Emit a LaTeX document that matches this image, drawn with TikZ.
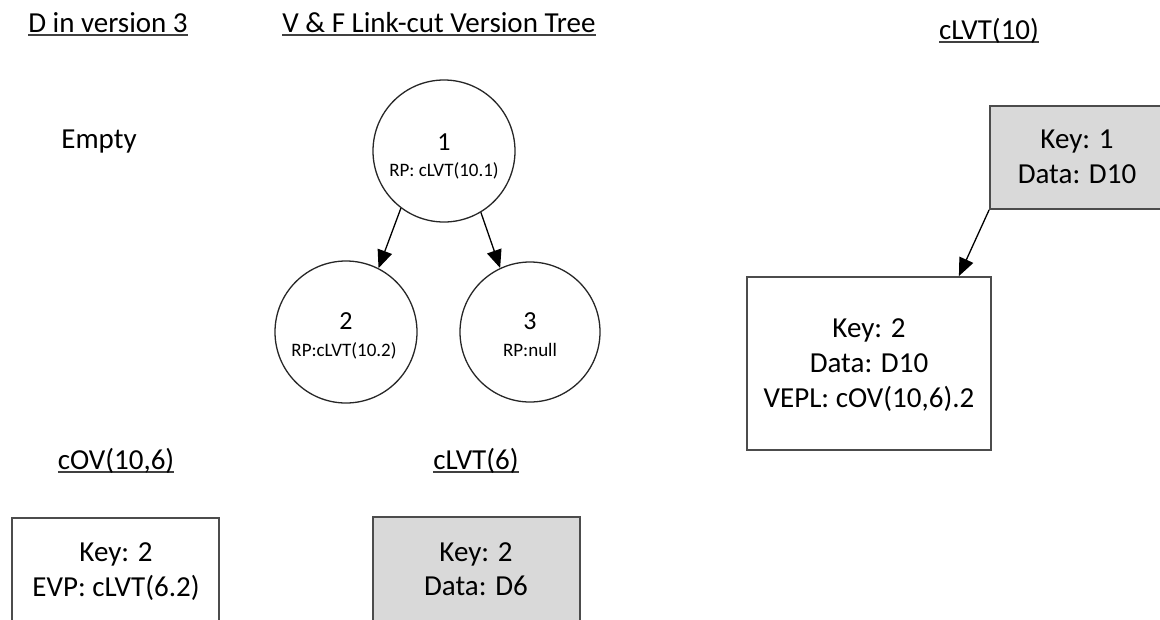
\documentclass[tikz,border=0pt]{standalone}
\usepackage{fontspec}
\setmainfont{Carlito}
\usetikzlibrary{arrows.meta,calc}
\newsavebox\ulbox
\newcommand\myul[1]{\sbox\ulbox{#1}\rlap{\color{black!75}\rule[-0.15em]{\wd\ulbox}{0.07em}}\usebox\ulbox}
\begin{document}
\begin{tikzpicture}[x=1pt,y=-1pt,
  txt/.style={font=\fontsize{29}{35}\selectfont, inner sep=0pt, anchor=base, text=black},
  small/.style={font=\fontsize{19}{22}\selectfont, inner sep=0pt, anchor=base, text=black},
  num/.style={font=\fontsize{26}{30}\selectfont, inner sep=0pt, anchor=base, text=black},
  vnode/.style={circle, draw=black!85, line width=1.3pt, minimum size=142pt, inner sep=0pt},
  rec/.style={draw=black!70, line width=1.8pt, inner sep=0pt},
  graybox/.style={rec, fill=black!15},
  link/.style={draw=black, line width=1.3pt, -{Triangle[length=18pt,width=15pt]}}
]
\useasboundingbox (0,0) rectangle (1160,619);
\clip (0,0) rectangle (1160,619);

% titles
\node[txt] (tD) at (108,32) {\myul{D in version 3}};
\node[txt] (tV) at (439,32) {\myul{V \& F Link-cut Version Tree}};
\node[txt] (t10) at (989,39) {\myul{cLVT(10)}};
\node[txt] (tOV) at (116,469) {\myul{cOV(10,6)}};
\node[txt] (t6) at (476,469) {\myul{cLVT(6)}};

\node[txt] (empty) at (99,148) {Empty};

% version tree
\node[vnode] (c1) at (444,151) {};
\node[vnode] (c2) at (346,332) {};
\node[vnode, minimum size=140pt] (c3) at (530,332) {};
\node[num] (c1n) at (444,150) {1};
\node[small] (c1r) at (444,176) {RP: cLVT(10.1)};
\node[num] (c2n) at (346,329) {2};
\node[small] (c2r) at (344,356) {RP:cLVT(10.2)};
\node[num] (c3n) at (530,329) {3};
\node[small] (c3r) at (530,356) {RP:null};
\draw[link] (c1.233.6) -- (c2.63);
\draw[link] (c1.301.5) -- (c3.115);

% cLVT(10)
\node[graybox, minimum width=176pt, minimum height=103pt] (k1) at (1078,157.5) {};
\node[txt] (k1a) at (1077,148) {Key: 1};
\node[txt] (k1b) at (1077,183) {Data: D10};
\node[rec, minimum width=244pt, minimum height=173pt] (k2) at (869,363.5) {};
\node[txt] (k2a) at (869,337) {Key: 2};
\node[txt] (k2b) at (869,372) {Data: D10};
\node[txt] (k2c) at (869,407) {VEPL: cOV(10,6).2};
\draw[link] (k1.south west) -- ([xshift=-33pt]k2.north east);

% cOV(10,6)
\node[rec, minimum width=207pt, minimum height=132pt] (e1) at (115.5,584) {};
\node[txt] (e1a) at (116,561) {Key: 2};
\node[txt] (e1b) at (116,596) {EVP: cLVT(6.2)};

% cLVT(6)
\node[graybox, minimum width=207pt, minimum height=133pt] (g6) at (476.5,583.5) {};
\node[txt] (g6a) at (476,561) {Key: 2};
\node[txt] (g6b) at (476,595) {Data: D6};
\end{tikzpicture}
\end{document}
